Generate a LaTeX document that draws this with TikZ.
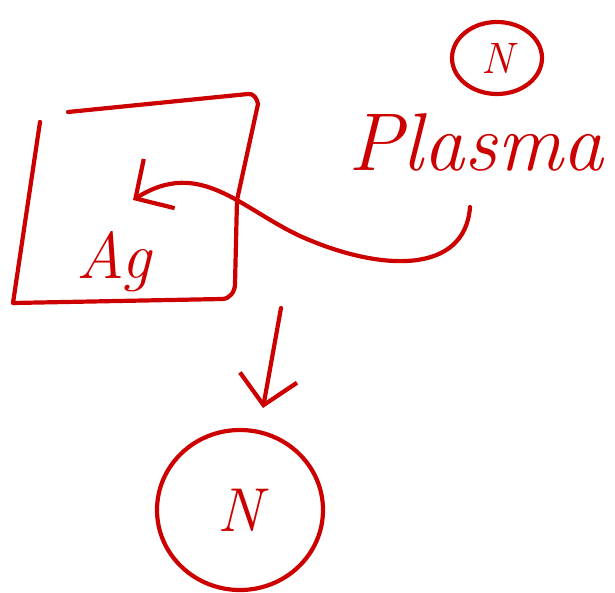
\documentclass[tikz,border=0pt]{standalone}
\usetikzlibrary{positioning, arrows.meta, shapes.geometric}
\definecolor{inkred}{RGB}{204,0,0}

\begin{document}
\begin{tikzpicture}[x=1pt, y=-1pt,
        sketch/.style={draw=inkred, line width=4.2pt, line cap=round, line join=round},
        ring/.style={ellipse, draw=inkred, line width=4.2pt, inner sep=0pt, text=inkred},
        label/.style={text=inkred, font=\itshape},
        arrow/.style={sketch, -{Straight Barb[length=28pt, width=58pt, line width=4.2pt]}}
    ]
        \useasboundingbox (0,0) rectangle (615,593);

        % target box
        \draw[sketch] (40,122) -- (13,303) -- (222,299) to[out=0, in=-90] (235,284)
                      -- (237,200) -- (258,104) to[out=100, in=10] (248,94) -- (68,112);
        \node[label, font=\itshape\fontsize{66}{66}\selectfont] (ag) at (114,262) {Ag};

        % plasma source
        \node[label, font=\itshape\fontsize{82}{82}\selectfont] (plasma) at (476,142) {Plasma};
        \node[ring, minimum width=90pt, minimum height=72pt,
              font=\itshape\fontsize{44}{44}\selectfont] (ntop) at (497,58) {N};

        % product
        \node[ring, minimum width=166pt, minimum height=160pt,
              font=\itshape\fontsize{62}{62}\selectfont] (nbot) at (240,510) {N};

        \coordinate (plasmatail) at (470,207);
        \coordinate (agtip)      at (133,200);
        \coordinate (downtail)   at (281,308);
        \coordinate (downhead)   at (263,408);

        \draw[arrow] (plasmatail) .. controls (465,275) and (380,272) .. (300,236)
                     .. controls (240,208) and (200,158) .. (agtip);
        \draw[arrow] (downtail) -- (downhead);
    \end{tikzpicture}
\end{document}
